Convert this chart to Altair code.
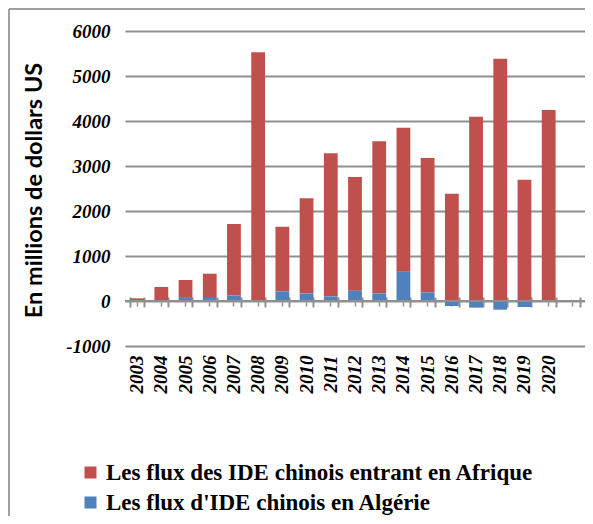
import altair as alt
import pandas as pd

years = [str(y) for y in range(2003, 2021)]
afrique = [57, 300, 397, 518, 1585, 5504, 1437, 2111, 3177, 2526, 3378, 3200, 2985, 2385, 4096, 5385, 2696, 4244]
algerie = [2, 11, 70, 89, 126, 22, 215, 170, 104, 230, 170, 652, 193, -111, -148, -193, -133, 0]
series = ["Les flux des IDE chinois entrant en Afrique", "Les flux d'IDE chinois en Algérie"]
colors = ["#C0504D", "#4F81BD"]
x_domain = years + [" "]
y_ticks = [-1000, 0, 1000, 2000, 3000, 4000, 5000, 6000]

rows = []
for i, y in enumerate(years):
    rows.append({"year": y, "series": series[0], "value": afrique[i], "ord": 1})
    rows.append({"year": y, "series": series[1], "value": algerie[i], "ord": 0})
df = pd.DataFrame(rows)

W, H = 460, 315
serif = "Liberation Serif"
xscale = alt.Scale(domain=x_domain, paddingInner=0.43, paddingOuter=0.215)
yscale = alt.Scale(domain=[-1000, 6000], nice=False, zero=False)

bars = alt.Chart(df).mark_bar().encode(
    x=alt.X("year:N", scale=xscale, sort=x_domain,
            axis=alt.Axis(title=None, orient="bottom", domain=False, ticks=False,
                          labelAngle=270, labelAlign="right", labelBaseline="middle",
                          labelPadding=9, labelFont=serif, labelFontSize=19,
                          labelFontWeight="bold", labelFontStyle="italic",
                          labelColor="black", grid=False)),
    y=alt.Y("value:Q", scale=yscale, stack="zero",
            axis=alt.Axis(values=y_ticks, labelExpr="'' + datum.value",
                          title="En millions de dollars US",
                          titleFont="Lato", titleFontSize=23.5, titleFontWeight="bold",
                          titleColor="black", titleAngle=-90, titleX=-79, titleY=159,
                          titleAlign="center", titleBaseline="bottom",
                          domain=False, ticks=False, labelPadding=15,
                          labelFont=serif, labelFontSize=19, labelFontWeight="bold",
                          labelFontStyle="italic", labelColor="black",
                          grid=True, gridColor="#8f8f8f", gridWidth=2)),
    color=alt.Color("series:N", scale=alt.Scale(domain=series, range=colors),
                    legend=alt.Legend(title=None, orient="none", legendX=-46, legendY=430,
                                      direction="vertical", symbolType="square",
                                      symbolSize=144, symbolStrokeWidth=0, padding=0,
                                      labelFont=serif, labelFontSize=23,
                                      labelFontWeight="bold", labelColor="black",
                                      labelOffset=4, labelLimit=0, rowPadding=6)),
    order=alt.Order("ord:Q"),
)

zero = alt.Chart(df).mark_rule(color="#8f8f8f", strokeWidth=2).encode(
    y=alt.datum(0, scale=yscale)
)

tick_src = pd.DataFrame({"year": years})
edge_ticks = alt.Chart(tick_src).mark_rule(opacity=0).encode(
    x=alt.X("year:N", scale=xscale, sort=x_domain,
            axis=alt.Axis(title=None, orient="bottom", labels=False, domain=False,
                          ticks=True, tickBand="extent", tickSize=10, tickWidth=2,
                          tickColor="#8f8f8f", offset=-49, grid=False))
)
mid_ticks = alt.Chart(tick_src).mark_rule(opacity=0).encode(
    x=alt.X("year:N", scale=xscale, sort=x_domain,
            axis=alt.Axis(title=None, orient="bottom", labels=False, domain=False,
                          ticks=True, tickSize=4, tickWidth=1.5, tickColor="#8f8f8f",
                          offset=-44, grid=False))
)

frame_left = alt.Chart(tick_src).mark_rule(color="#a0a0a0", strokeWidth=1.5).encode(
    x=alt.value(-116), y=alt.value(-22), y2=alt.value(H + 175)
)
frame_top = alt.Chart(tick_src).mark_rule(color="#a0a0a0", strokeWidth=1.5).encode(
    x=alt.value(-116), x2=alt.value(W), y=alt.value(-22)
)

chart = alt.layer(bars, zero, edge_ticks, mid_ticks, frame_left, frame_top).resolve_axis(
    x="independent"
).properties(
    width=W, height=H,
    autosize=alt.AutoSizeParams(type="none"),
    padding={"left": 117, "top": 23, "right": 0, "bottom": 170},
    background="white",
).configure_view(stroke=None)

chart.save("out.html", embed_options={"renderer": "svg", "actions": False})
